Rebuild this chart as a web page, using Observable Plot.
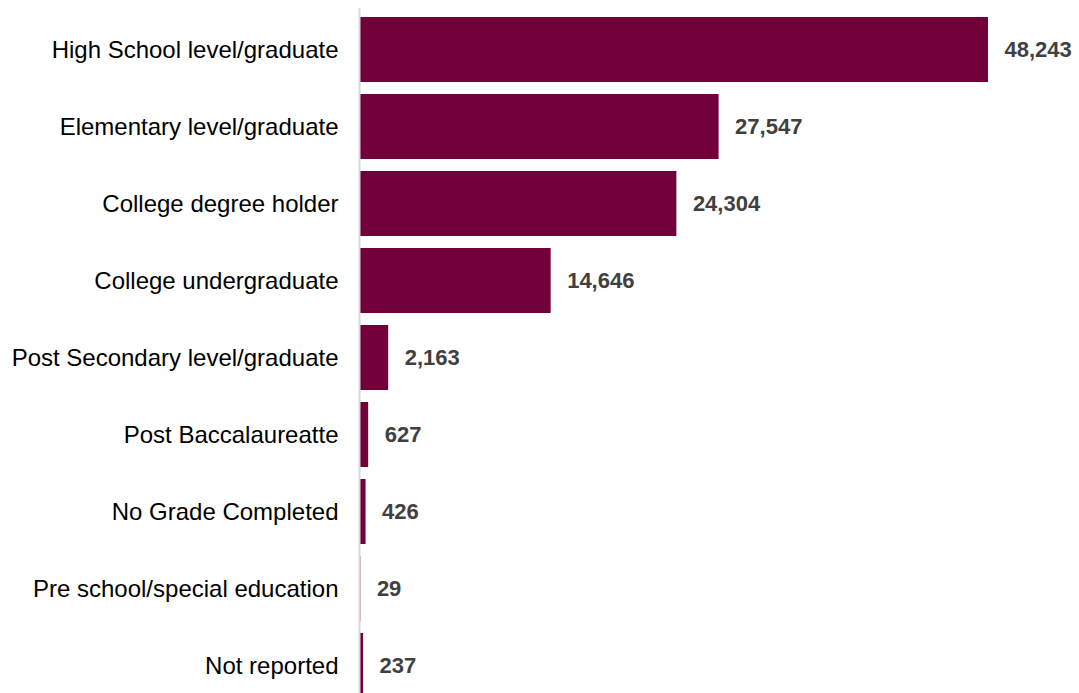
<!DOCTYPE html>
<html>
<head>
<meta charset="utf-8">
<script src="https://cdn.jsdelivr.net/npm/d3@7"></script>
<script src="https://cdn.jsdelivr.net/npm/@observablehq/plot@0.6"></script>
<style>
  html, body { margin: 0; padding: 0; background: #fff; overflow: hidden; }
  #chart svg { display: block; }
</style>
</head>
<body>
<div id="chart"></div>
<script>
const categories = [
  "High School level/graduate",
  "Elementary level/graduate",
  "College degree holder",
  "College undergraduate",
  "Post Secondary level/graduate",
  "Post Baccalaureatte",
  "No Grade Completed",
  "Pre school/special education",
  "Not reported"
];
const counts = [48243, 27547, 24304, 14646, 2163, 627, 426, 29, 237];

const data = categories.map((c, i) => ({category: c, count: counts[i]}));

const chart = Plot.plot({
  width: 1079,
  height: 707,
  marginTop: 8.2,
  marginBottom: 0,
  marginLeft: 360,
  marginRight: 91,
  style: {fontFamily: "Arial, 'Liberation Sans', sans-serif", background: "#fff"},
  x: {domain: [0, 48243], axis: null},
  y: {domain: categories, paddingInner: 0.16, paddingOuter: 0.08, label: null},
  marks: [
    Plot.barX(data, {x: "count", y: "category", fill: "#72003a"}),
    Plot.ruleX([0], {stroke: "#d9d9d9", strokeWidth: 2, dx: -1}),
    Plot.text(data, {
      x: "count", y: "category",
      text: d => d3.format(",")(d.count),
      textAnchor: "start", dx: 16,
      fill: "#404040", fontWeight: "bold", fontSize: 22
    }),
    Plot.axisY({tickSize: 0, tickPadding: 22, fontSize: 24, color: "#000", label: null})
  ]
});
chart.querySelectorAll("[aria-label='y-axis tick label'] text, [aria-label='y-axis tick label']").forEach(e => e.setAttribute("fill", "#000"));
document.getElementById("chart").appendChild(chart);
</script>
</body>
</html>
